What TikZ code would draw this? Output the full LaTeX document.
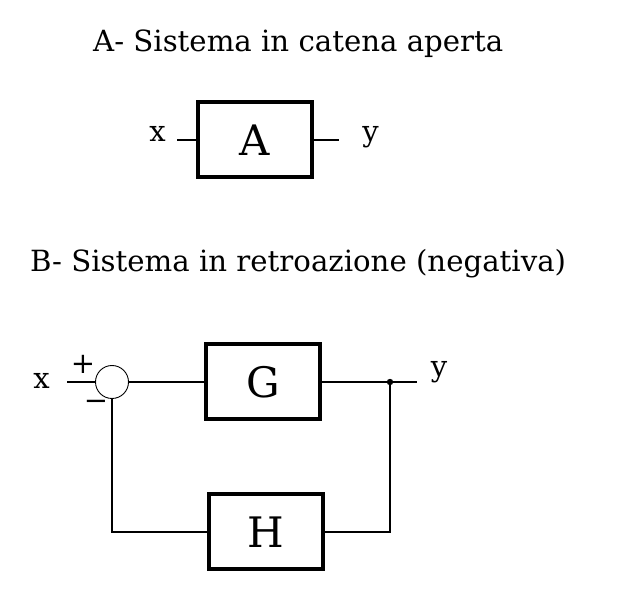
\documentclass[tikz,border=0pt]{standalone}
\usepackage{fontspec}
\setmainfont{DejaVu Serif}
\begin{document}
\begin{tikzpicture}[x=1pt,y=-1pt,
    blocco/.style={draw, line width=4pt, minimum width=114pt, minimum height=75pt, inner sep=0pt, font=\fontsize{42}{48}\selectfont},
    somma/.style={draw, circle, line width=0.9pt, minimum size=33pt, inner sep=0pt},
    filo/.style={line width=1.2pt},
    titolo/.style={font=\fontsize{29.2}{34}\selectfont, anchor=base west, inner sep=0pt},
    etichetta/.style={font=\fontsize{29}{34}\selectfont, anchor=base, inner sep=0pt}]
    \useasboundingbox (0,0) rectangle (625,612);

    % Titoli
    \node[titolo] (titA) at (93,52) {A- Sistema in catena aperta};
    \node[titolo] (titB) at (30,272) {B- Sistema in retroazione (negativa)};

    % Sistema in catena aperta
    \node[blocco] (A) at (255,140) {A};
    \coordinate (inA) at (177,140);
    \coordinate (outA) at (339,140);
    \draw[filo] (inA) -- (A.west);
    \draw[filo] (A.east) -- (outA);
    \node[etichetta] (xA) at (157.5,142) {x};
    \node[etichetta] (yA) at (370.5,142) {y};

    % Sistema in retroazione
    \node[somma] (S) at (112,382) {};
    \node[blocco] (G) at (263,382) {G};
    \node[blocco] (H) at (266,532) {H};
    \coordinate (inB) at (67,382);
    \coordinate (outB) at (417,382);
    \coordinate (diram) at (390,382);
    \draw[filo] (inB) -- (S.west);
    \draw[filo] (S.east) -- (G.west);
    \draw[filo] (G.east) -- (outB);
    \fill (diram) circle (3.2);
    \draw[filo] (diram) |- (H.east);
    \draw[filo] (H.west) -| (S.south);
    \node[etichetta] (xB) at (41.5,389) {x};
    \node[etichetta] (yB) at (439,377) {y};
    \node[etichetta, anchor=center] (piu) at (83,364) {+};
    \node[etichetta, anchor=center] (meno) at (96,405) {−};
\end{tikzpicture}
\end{document}
